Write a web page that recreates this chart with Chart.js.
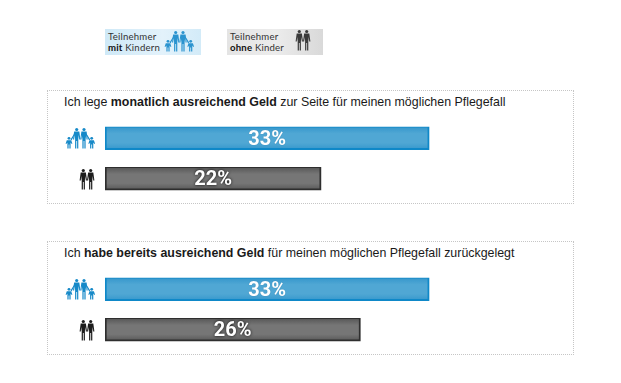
<!DOCTYPE html>
<html lang="de">
<head>
<meta charset="utf-8">
<title>Pflegefall</title>
<script src="https://cdn.jsdelivr.net/npm/chart.js@4"></script>
<style>
html, body { margin: 0; padding: 0; background: #fff; }
body { position: relative; width: 621px; height: 383px; overflow: hidden; font-family: "Liberation Sans", Arial, sans-serif; }
.box { position: absolute; left: 47px; width: 525px; height: 112px; border: 1px dotted #c6c6c6; }
.title { position: absolute; left: 64px; font-size: 12.4px; color: #1a1a1a; white-space: nowrap; }
.chart { position: absolute; left: 105px; width: 393px; height: 81px; }
.legend { position: absolute; top: 29px; width: 96px; height: 26px; font: 9.6px/11.5px Lato, sans-serif; color: #333; }
.legend b { color: #111; }
.legend span { position: absolute; left: 3px; top: 1.5px; white-space: nowrap; letter-spacing: 0.2px; }
#legKids { left: 105px; background: linear-gradient(90deg, #cfe9f7, #e3f2fb 60%, #d3ebf8); }
#legNone { left: 227px; background: linear-gradient(90deg, #e4e4e4, #ececec 50%, #d9d9d9); }
svg.icon { position: absolute; overflow: visible; }
</style>
</head>
<body>
<svg width="0" height="0" style="position:absolute">
  <defs>
    <g id="adult">
      <circle cx="0" cy="1.5" r="1.6"/>
      <path d="M-2.6 3.6 H2.6 L3.7 11.5 H2.5 L2.2 7 L1.6 11 V20.5 H0.4 V13 H-0.4 V20.5 H-1.6 V11 L-2.2 7 L-2.5 11.5 H-3.7 Z"/>
    </g>
    <g id="child">
      <circle cx="0" cy="1.3" r="1.4"/>
      <path d="M-2.2 3.2 H2.2 L3.4 6.8 H2.4 L1.6 5.5 V11.5 H0.4 V7.5 H-0.4 V11.5 H-1.6 V5.5 L-2.4 6.8 H-3.4 Z"/>
    </g>
    <g id="family">
      <use href="#adult" x="10.7"/>
      <use href="#adult" x="18"/>
      <use href="#child" x="3" y="9"/>
      <use href="#child" x="25.7" y="9"/>
      <path d="M4.5 11.5 L8 6 L8.6 6.8 L5.5 12.5 Z M24.2 11.5 L20.7 6 L20.1 6.8 L23.2 12.5 Z"/>
    </g>
    <g id="couple">
      <use href="#adult" x="3.3"/>
      <use href="#adult" x="10.7"/>
    </g>
  </defs>
</svg>

<div class="legend" id="legKids"><span id="legKidsText"></span></div>
<div class="legend" id="legNone"><span id="legNoneText"></span></div>
<svg class="icon" style="left:165px;top:31px" width="29" height="22" viewBox="0 0 29 22" fill="#2a93cf"><use href="#family"/></svg>
<svg class="icon" style="left:296px;top:30px" width="15" height="22" viewBox="0 0 15 22" fill="#3a3a3a"><use href="#couple"/></svg>

<div class="box" style="top:90px"></div>
<div class="title" id="title0" style="top:95px"></div>
<div class="chart" style="top:118px"><canvas id="chart0"></canvas></div>
<svg class="icon" style="left:66px;top:128px" width="29" height="22" viewBox="0 0 29 22" fill="#1689c8"><use href="#family"/></svg>
<svg class="icon" style="left:80px;top:169px" width="15" height="22" viewBox="0 0 15 22" fill="#1c1c1c"><use href="#couple"/></svg>

<div class="box" style="top:241px"></div>
<div class="title" id="title1" style="top:246px"></div>
<div class="chart" style="top:269px"><canvas id="chart1"></canvas></div>
<svg class="icon" style="left:66px;top:279px" width="29" height="22" viewBox="0 0 29 22" fill="#1689c8"><use href="#family"/></svg>
<svg class="icon" style="left:80px;top:320px" width="15" height="22" viewBox="0 0 15 22" fill="#1c1c1c"><use href="#couple"/></svg>

<script>
const categories = ["Teilnehmer mit Kindern", "Teilnehmer ohne Kinder"];
const values0 = [33, 22];
const values1 = [33, 26];
const titles0 = ["Ich lege ", "monatlich ausreichend Geld", " zur Seite für meinen möglichen Pflegefall"];
const titles1 = ["Ich ", "habe bereits ausreichend Geld", " für meinen möglichen Pflegefall zurückgelegt"];
const legendKids = ["Teilnehmer", "mit", " Kindern"];
const legendNone = ["Teilnehmer", "ohne", " Kinder"];

function setTitle(id, parts) {
    document.getElementById(id).innerHTML = parts[0] + "<b>" + parts[1] + "</b>" + parts[2];
}
function setLegend(id, parts) {
    document.getElementById(id).innerHTML = parts[0] + "<br><b>" + parts[1] + "</b>" + parts[2];
}
setTitle("title0", titles0);
setTitle("title1", titles1);
setLegend("legKidsText", legendKids);
setLegend("legNoneText", legendNone);

// prozentwerte mittig in den balken
const barLabels = {
    id: "barLabels",
    afterDatasetsDraw(chart) {
        const ctx = chart.ctx;
        const meta = chart.getDatasetMeta(0);
        ctx.save();
        ctx.font = "bold 20px Roboto, sans-serif";
        ctx.textAlign = "center";
        ctx.textBaseline = "middle";
        meta.data.forEach((bar, i) => {
            const label = chart.data.datasets[0].data[i] + "%";
            const x = (bar.base + bar.x) / 2;
            ctx.shadowColor = i === 1 ? "rgba(0,0,0,0.95)" : "rgba(0,60,100,0.35)";
            ctx.shadowBlur = i === 1 ? 3 : 1;
            ctx.fillStyle = "#fff";
            ctx.fillText(label, x, bar.y + 1.5);
        });
        ctx.restore();
    }
};

// innerer schatten der balken
function barFill(context) {
    const chart = context.chart;
    const i = context.dataIndex;
    const core = i === 0 ? "#50a7d4" : "#767676";
    const y = chart.scales.y;
    const mid = y ? y.getPixelForValue(i) : NaN;
    if (!Number.isFinite(mid)) return core;
    const g = chart.ctx.createLinearGradient(0, mid - 11.5, 0, mid + 11.5);
    const edge = i === 0 ? "#3597cc" : "#565656";
    g.addColorStop(0, edge);
    g.addColorStop(0.3, core);
    g.addColorStop(0.7, core);
    g.addColorStop(1, edge);
    return g;
}

function makeChart(id, values) {
    new Chart(document.getElementById(id).getContext("2d"), {
        type: "bar",
        data: {
            labels: categories,
            datasets: [{
                data: values,
                backgroundColor: barFill,
                borderColor: ["#0f88c8", "#2e2e2e"],
                borderWidth: { top: 1, bottom: 2, left: 2, right: 2 },
                borderSkipped: false,
                barThickness: 23
            }]
        },
        options: {
            indexAxis: "y",
            responsive: true,
            maintainAspectRatio: false,
            animation: false,
            layout: { padding: 0 },
            scales: {
                x: { display: false, min: 0, max: 40 },
                y: { display: false }
            },
            plugins: {
                legend: { display: false },
                tooltip: { enabled: false }
            }
        },
        plugins: [barLabels]
    });
}

makeChart("chart0", values0);
makeChart("chart1", values1);
</script>
</body>
</html>
